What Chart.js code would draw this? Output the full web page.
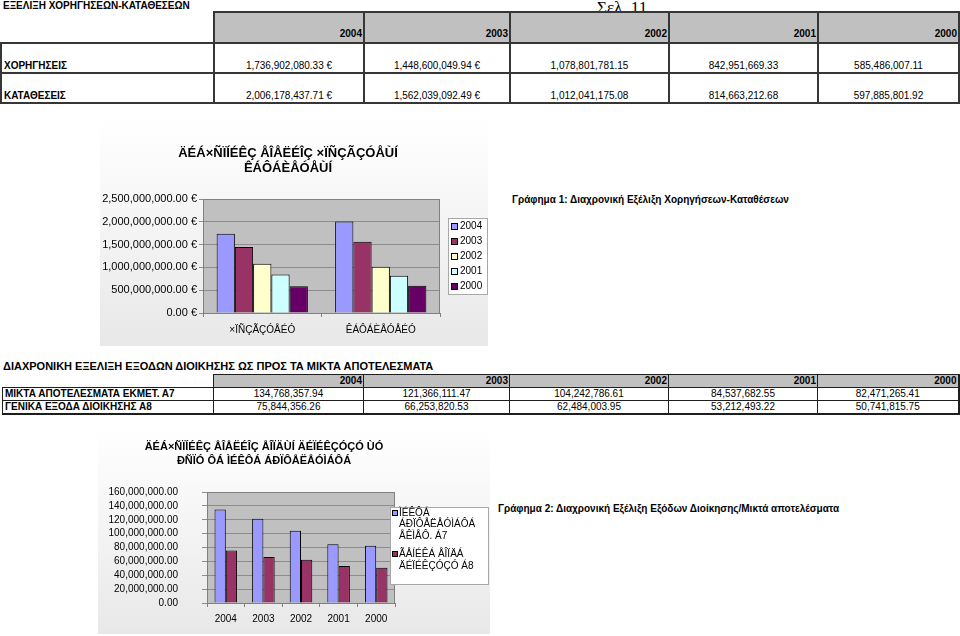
<!DOCTYPE html>
<html>
<head>
<meta charset="utf-8">
<title>Εξέλιξη Χορηγήσεων-Καταθέσεων</title>
<script src="https://cdn.jsdelivr.net/npm/chart.js@4.4.0/dist/chart.umd.min.js"></script>
<style>
  body { margin: 0; width: 960px; height: 636px; overflow: hidden; background: #fff;
         font-family: "Liberation Sans", Arial, sans-serif; position: relative; color: #000; }
  .abs { position: absolute; white-space: nowrap; }
  .h1 { left: 3px; top: 0px; font-size: 10px; font-weight: bold; line-height: 12px; }
  .h2 { left: 3px; top: 360px; font-size: 11px; font-weight: bold; line-height: 13px; }
  .sel { left: 597px; top: -1px; font-family: "Liberation Serif", serif; font-size: 17px; line-height: 17px; z-index: 0; }
  .note { font-size: 10px; font-weight: bold; line-height: 12px; }
  table { position: absolute; border-collapse: collapse; table-layout: fixed; z-index: 1; }
  td { font-size: 10px; white-space: nowrap; overflow: hidden; padding: 0 2px; border: 2px solid #363636; }
  td.nb { border-top: none !important; border-left: none !important; }
  td.hd { background: #c0c0c0; font-weight: bold; text-align: right; padding-right: 1px; }
  td.lab { font-weight: bold; text-align: left; }
  td.val { text-align: center; }
  #t1 td { vertical-align: bottom; line-height: 12px; }
  #t1 tr.hrow td { height: 27px; padding-bottom: 2px; }
  #t1 tr.drow td { height: 28px; padding-bottom: 0px; }
  #t2 td { vertical-align: middle; line-height: 12px; height: 12px; padding-top: 0; padding-bottom: 0;
           border: 1px solid #1e1e1e; }
  canvas { position: absolute; }
</style>
</head>
<body>

<div class="abs h1">ΕΞΕΛΙΞΗ ΧΟΡΗΓΗΣΕΩΝ-ΚΑΤΑΘΕΣΕΩΝ</div>
<div class="abs sel">Σελ. 11</div>
<table id="t1" style="left:0px; top:11px;"></table>

<div class="abs h2">ΔΙΑΧΡΟΝΙΚΗ ΕΞΕΛΙΞΗ ΕΞΟΔΩΝ ΔΙΟΙΚΗΣΗΣ ΩΣ ΠΡΟΣ ΤΑ ΜΙΚΤΑ ΑΠΟΤΕΛΕΣΜΑΤΑ</div>
<table id="t2" style="left:2px; top:374px; border: 2px solid #1e1e1e; border-top: none; border-left: none;"></table>

<canvas id="chart1" width="388" height="228" style="left:100px; top:118px;"></canvas>
<div class="abs note" style="left:512px; top:194px;">Γράφημα 1: Διαχρονική Εξέλιξη Χορηγήσεων-Καταθέσεων</div>

<canvas id="chart2" width="392" height="206" style="left:98px; top:428px;"></canvas>
<div class="abs note" style="left:498px; top:503px;">Γράφημα 2: Διαχρονική Εξέλιξη Εξόδων Διοίκησης/Μικτά αποτελέσματα</div>

<script>
// --- données ---
const years = ['2004', '2003', '2002', '2001', '2000'];

const xorigiseis  = [1736902080.33, 1448600049.94, 1078801781.15, 842951669.33, 585486007.11];
const katatheseis = [2006178437.71, 1562039092.49, 1012041175.08, 814663212.68, 597885801.92];

const miktaA7  = [134768357.94, 121366111.47, 104242786.61, 84537682.55, 82471265.41];
const genikaA8 = [75844356.26, 66253820.53, 62484003.95, 53212493.22, 50741815.75];

const table1Rows = ['ΧΟΡΗΓΗΣΕΙΣ', 'ΚΑΤΑΘΕΣΕΙΣ'];
const table2Rows = ['ΜΙΚΤΑ ΑΠΟΤΕΛΕΣΜΑΤΑ ΕΚΜΕΤ. Α7', 'ΓΕΝΙΚΑ ΕΞΟΔΑ ΔΙΟΙΚΗΣΗΣ Α8'];

// textes des graphiques tels qu'ils apparaissent (encodage cassé)
const chart1Cats  = ['×ÏÑÇÃÇÓÅÉÓ', 'ÊÁÔÁÈÅÓÅÉÓ'];
const chart1Title = ['ÄÉÁ×ÑÏÍÉÊÇ ÅÎÅËÉÎÇ ×ÏÑÇÃÇÓÅÙÍ', 'ÊÁÔÁÈÅÓÅÙÍ'];
const chart2Title = ['ÄÉÁ×ÑÏÍÉÊÇ ÅÎÅËÉÎÇ ÅÎÏÄÙÍ ÄÉÏÉÊÇÓÇÓ ÙÓ', 'ÐÑÏÓ ÔÁ ÌÉÊÔÁ ÁÐÏÔÅËÅÓÌÁÔÁ'];
const chart2Series = [['ÌÉÊÔÁ', 'ÁÐÏÔÅËÅÓÌÁÔÁ', 'ÅÊÌÅÔ. Á7'], ['ÃÅÍÉÊÁ ÅÎÏÄÁ', 'ÄÉÏÉÊÇÓÇÓ Á8']];

const y1Max = 2500000000, y1Step = 500000000;
const y2Max = 160000000,  y2Step = 20000000;

const yearColors = ['#9999ff', '#993366', '#ffffcc', '#ccffff', '#660066'];
const seriesColors = ['#9999ff', '#993366'];

function fmt(v) {
    return v.toLocaleString('en-US', { minimumFractionDigits: 2, maximumFractionDigits: 2 });
}

// --- tableaux ---
(function buildTables() {
    const widths1 = [213, 150, 146, 159, 149, 141];
    const widths2 = [211, 150, 146, 159, 149, 141];

    function build(id, widths, rows, data, euroCols) {
        let html = '<colgroup>' + widths.map(w => '<col style="width:' + w + 'px">').join('') + '</colgroup>';
        html += '<tr class="hrow"><td class="nb"></td>' + years.map(y => '<td class="hd">' + y + '</td>').join('') + '</tr>';
        rows.forEach((label, r) => {
            html += '<tr class="drow"><td class="lab">' + label + '</td>';
            data[r].forEach((v, i) => {
                html += '<td class="val">' + fmt(v) + (i < euroCols ? ' €' : '') + '</td>';
            });
            html += '</tr>';
        });
        document.getElementById(id).innerHTML = html;
    }

    build('t1', widths1, table1Rows, [xorigiseis, katatheseis], 2);
    build('t2', widths2, table2Rows, [miktaA7, genikaA8], 0);
})();

// --- plugins maison (fond, titre, légende encadrée) ---
const excelBackground = {
    id: 'excelBackground',
    beforeDraw(chart) {
        const { ctx, chartArea: a, width, height } = chart;
        ctx.save();
        const g = ctx.createLinearGradient(0, 0, 0, height);
        g.addColorStop(0, '#ffffff');
        g.addColorStop(1, '#e8e8e8');
        ctx.fillStyle = g;
        ctx.fillRect(0, 0, width, height);
        ctx.fillStyle = '#c0c0c0';
        ctx.fillRect(a.left, a.top, a.right - a.left, a.bottom - a.top);
        ctx.restore();
    },
    beforeDatasetsDraw(chart) {
        const { ctx, chartArea: a } = chart;
        ctx.save();
        ctx.strokeStyle = '#808080';
        ctx.lineWidth = 1;
        ctx.strokeRect(Math.round(a.left) + 0.5, Math.round(a.top) + 0.5,
                       Math.round(a.right - a.left) - 1, Math.round(a.bottom - a.top));
        ctx.restore();
    }
};

const boxTitle = {
    id: 'boxTitle',
    afterDraw(chart, args, o) {
        const ctx = chart.ctx;
        ctx.save();
        ctx.font = o.font;
        ctx.fillStyle = '#000';
        ctx.textAlign = 'center';
        ctx.textBaseline = 'middle';
        o.lines.forEach((t, i) => ctx.fillText(t, o.x, o.y + i * o.lineH));
        ctx.restore();
    }
};

const boxLegend = {
    id: 'boxLegend',
    afterDraw(chart, args, o) {
        const ctx = chart.ctx;
        const [bx, by, bw, bh] = o.box;
        ctx.save();
        ctx.fillStyle = '#ffffff';
        ctx.fillRect(bx, by, bw, bh);
        ctx.strokeStyle = '#a8a8a8';
        ctx.lineWidth = 1;
        ctx.strokeRect(bx + 0.5, by + 0.5, bw - 1, bh - 1);
        ctx.font = o.font;
        ctx.textBaseline = 'middle';
        let y = o.firstY;
        chart.data.datasets.forEach(ds => {
            const lines = ds.legendLines || [ds.label];
            const m = o.mark;
            ctx.fillStyle = ds.backgroundColor;
            ctx.fillRect(o.markX, Math.round(y - m / 2), m, m);
            ctx.strokeStyle = '#000';
            ctx.strokeRect(o.markX + 0.5, Math.round(y - m / 2) + 0.5, m - 1, m - 1);
            ctx.fillStyle = '#000';
            lines.forEach((t, i) => ctx.fillText(t, o.textX, y + i * o.lineH));
            y += lines.length * o.lineH + o.gap;
        });
        ctx.restore();
    }
};

Chart.defaults.font.family = '"Liberation Sans", Arial, sans-serif';
Chart.defaults.color = '#000';

// --- graphique 1 : Χορηγήσεις / Καταθέσεις par année ---
new Chart(document.getElementById('chart1'), {
    type: 'bar',
    data: {
        labels: chart1Cats,
        datasets: years.map((y, i) => ({
            label: y,
            data: [xorigiseis[i], katatheseis[i]],
            backgroundColor: yearColors[i],
            borderColor: '#000',
            borderWidth: 1,
            barPercentage: 1.0,
            categoryPercentage: 0.77
        }))
    },
    options: {
        responsive: false,
        animation: false,
        layout: { padding: { top: 81, right: 48, bottom: 0, left: 0 } },
        plugins: {
            legend: { display: false },
            tooltip: { enabled: false },
            boxTitle: { lines: chart1Title, x: 188, y: 35, lineH: 15, font: 'bold 13px "Liberation Sans", Arial' },
            boxLegend: { box: [348, 100, 40, 77], firstY: 108, lineH: 15, gap: 0, mark: 7,
                         markX: 351, textX: 360, font: '10px "Liberation Sans", Arial' }
        },
        scales: {
            x: {
                grid: { drawOnChartArea: false, color: '#808080', tickLength: 4 },
                border: { color: '#808080' },
                ticks: { padding: 7, font: { size: 10 } },
                afterFit: s => { s.height = 33; }
            },
            y: {
                min: 0, max: y1Max,
                grid: { color: '#8c8c8c', tickLength: 4 },
                border: { color: '#808080' },
                ticks: { stepSize: y1Step, autoSkip: false, padding: 2, font: { size: 11 },
                         callback: v => fmt(v) + ' €' },
                afterFit: s => { s.width = 103; }
            }
        }
    },
    plugins: [excelBackground, boxTitle, boxLegend]
});

// --- graphique 2 : Μικτά αποτελέσματα / Γενικά έξοδα ---
new Chart(document.getElementById('chart2'), {
    type: 'bar',
    data: {
        labels: years,
        datasets: [miktaA7, genikaA8].map((d, i) => ({
            label: chart2Series[i].join(' '),
            legendLines: chart2Series[i],
            data: d,
            backgroundColor: seriesColors[i],
            borderColor: '#000',
            borderWidth: 1,
            barPercentage: 1.0,
            categoryPercentage: 0.6
        }))
    },
    options: {
        responsive: false,
        animation: false,
        layout: { padding: { top: 64, right: 95, bottom: 0, left: 0 } },
        plugins: {
            legend: { display: false },
            tooltip: { enabled: false },
            boxTitle: { lines: chart2Title, x: 166, y: 19, lineH: 14, font: 'bold 11px "Liberation Sans", Arial' },
            boxLegend: { box: [292, 79, 99, 78], firstY: 85, lineH: 11.7, gap: 6, mark: 6,
                         markX: 294, textX: 301, font: '10px "Liberation Sans", Arial' }
        },
        scales: {
            x: {
                grid: { drawOnChartArea: false, color: '#808080', tickLength: 4 },
                border: { color: '#808080' },
                ticks: { padding: 6, font: { size: 10 } },
                afterFit: s => { s.height = 31; }
            },
            y: {
                min: 0, max: y2Max,
                grid: { color: '#8c8c8c', tickLength: 5 },
                border: { color: '#808080' },
                ticks: { stepSize: y2Step, autoSkip: false, padding: 24, font: { size: 10 },
                         callback: v => fmt(v) },
                afterFit: s => { s.width = 109; }
            }
        }
    },
    plugins: [excelBackground, boxTitle, boxLegend]
});
</script>
</body>
</html>
